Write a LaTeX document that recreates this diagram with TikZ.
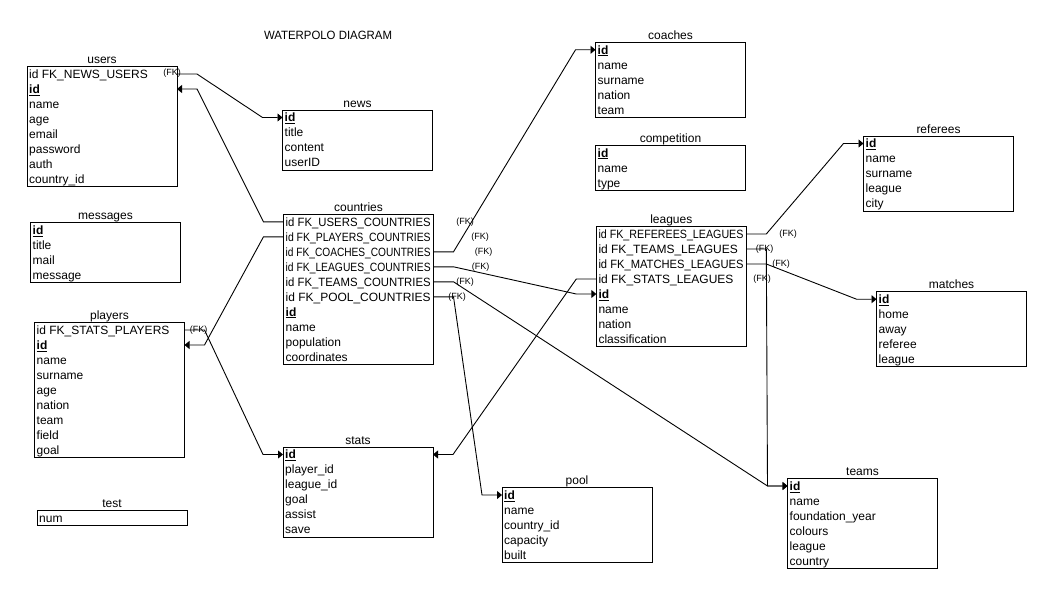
\documentclass[tikz,border=0pt]{standalone}
\usepackage{fontspec}
\setmainfont{Liberation Sans}
\usepackage{graphicx}
\usetikzlibrary{arrows.meta,calc}
\newsavebox\rowbox
\newcommand\fitrow[1]{\sbox\rowbox{#1}\ifdim\wd\rowbox>145pt\resizebox{145pt}{\height}{\usebox\rowbox}\else\usebox\rowbox\fi}
\newcommand\pkid{\underline{\textbf{id}}}
\newcommand\ertable[6]{%
  \node[tbox,minimum height=#5*15pt] (#1) at (#2,#3) {};
  \node[ttl] (#1-title) at (#2+75,#3-3) {#4};
  \foreach \r [count=\i from 0] in {#6} {\node[row] (#1-r\i) at (#2+2,#3+7.5+15*\i) {\fitrow{\r}};}
}
\tikzset{
  tbox/.style={draw,line width=1pt,anchor=north west,minimum width=150pt,inner sep=0pt,outer sep=0pt},
  ttl/.style={anchor=base,inner sep=0pt,font=\fontsize{12}{14}\selectfont},
  row/.style={anchor=west,inner sep=0pt,font=\fontsize{12}{14}\selectfont,text height=10.6pt,text depth=2pt},
  conn/.style={draw,line width=0.9pt,-{Triangle[length=5pt,width=8pt]}},
  fk/.style={inner sep=0pt,font=\fontsize{9}{10}\selectfont},
}
\begin{document}
\begin{tikzpicture}[x=1pt,y=-1pt]
\useasboundingbox (0,0) rectangle (1052,594);
\fill[white] (0,0) rectangle (1052,594);
\node[anchor=base,inner sep=0pt,font=\fontsize{12}{14}\selectfont] (diagtitle) at (328,39.3) {\resizebox{128pt}{\height}{WATERPOLO DIAGRAM}};

\ertable{users}{27}{66.5}{users}{8}{id FK\_NEWS\_USERS,\pkid,name,age,email,password,auth,country\_id}
\ertable{news}{282.5}{110}{news}{4}{\pkid,title,content,userID}
\ertable{messages}{30.5}{222.5}{messages}{4}{\pkid,title,mail,message}
\ertable{players}{34.5}{322.5}{players}{9}{id FK\_STATS\_PLAYERS,\pkid,name,surname,age,nation,team,field,goal}
\ertable{test}{37}{510.3}{test}{1}{num}
\ertable{countries}{283.5}{214.3}{countries}{10}{id FK\_USERS\_COUNTRIES,id FK\_PLAYERS\_COUNTRIES,id FK\_COACHES\_COUNTRIES,id FK\_LEAGUES\_COUNTRIES,id FK\_TEAMS\_COUNTRIES,id FK\_POOL\_COUNTRIES,\pkid,name,population,coordinates}
\ertable{stats}{283}{447}{stats}{6}{\pkid,player\_id,league\_id,goal,assist,save}
\ertable{coaches}{595.5}{42.3}{coaches}{5}{\pkid,name,surname,nation,team}
\ertable{competition}{595.5}{145.3}{competition}{3}{\pkid,name,type}
\ertable{leagues}{596.3}{226.5}{leagues}{8}{id FK\_REFEREES\_LEAGUES,id FK\_TEAMS\_LEAGUES,id FK\_MATCHES\_LEAGUES,id FK\_STATS\_LEAGUES,\pkid,name,nation,classification}
\ertable{referees}{863.5}{136}{referees}{5}{\pkid,name,surname,league,city}
\ertable{matches}{876.5}{291.7}{matches}{5}{\pkid,home,away,referee,league}
\ertable{pool}{502}{487.5}{pool}{5}{\pkid,name,country\_id,capacity,built}
\ertable{teams}{787.5}{478.5}{teams}{6}{\pkid,name,foundation\_year,colours,league,country}

% connectors
\draw[conn] (users-r0 -| users.east) -- ++(20,0) -- ($(news-r0 -| news.west)+(-20,0)$) -- (news-r0 -| news.west);
\draw[conn] (countries-r0 -| countries.west) -- ++(-20,0) -- ($(users-r1 -| users.east)+(20,0)$) -- (users-r1 -| users.east);
\draw[conn] (countries-r1 -| countries.west) -- ++(-20,0) -- ($(players-r1 -| players.east)+(20,0)$) -- (players-r1 -| players.east);
\draw[conn] (players-r0 -| players.east) -- ++(20,0) -- ($(stats-r0 -| stats.west)+(-20,0)$) -- (stats-r0 -| stats.west);
\draw[conn] (countries-r2 -| countries.east) -- ++(20,0) -- ($(coaches-r0 -| coaches.west)+(-20,0)$) -- (coaches-r0 -| coaches.west);
\draw[conn] (countries-r3 -| countries.east) -- ++(20,0) -- ($(leagues-r4 -| leagues.west)+(-20,0)$) -- (leagues-r4 -| leagues.west);
\draw[conn] (countries-r4 -| countries.east) -- ++(20,0) -- ($(teams-r0 -| teams.west)+(-20,0)$) -- (teams-r0 -| teams.west);
\draw[conn] (countries-r5 -| countries.east) -- ++(20,0) -- ($(pool-r0 -| pool.west)+(-20,0)$) -- (pool-r0 -| pool.west);
\draw[conn] (leagues-r3 -| leagues.west) -- ++(-20,0) -- ($(stats-r0 -| stats.east)+(20,0)$) -- (stats-r0 -| stats.east);
\draw[conn] (leagues-r0 -| leagues.east) -- ++(20,0) -- ($(referees-r0 -| referees.west)+(-20,0)$) -- (referees-r0 -| referees.west);
\draw[conn] (leagues-r2 -| leagues.east) -- ++(20,0) -- ($(matches-r0 -| matches.west)+(-20,0)$) -- (matches-r0 -| matches.west);
\draw[conn] (leagues-r1 -| leagues.east) -- ++(20,0) -- ($(teams-r0 -| teams.west)+(-20,0)$) -- (teams-r0 -| teams.west);

% FK labels
\node[fk] (fk1) at (172,73.5) {(FK)};
\node[fk] (fk2) at (198.5,330) {(FK)};
\node[fk] (fk3) at (465,222) {(FK)};
\node[fk] (fk4) at (480,237) {(FK)};
\node[fk] (fk5) at (483.5,252) {(FK)};
\node[fk] (fk6) at (480.5,267) {(FK)};
\node[fk] (fk7) at (465,282) {(FK)};
\node[fk] (fk8) at (457,297) {(FK)};
\node[fk] (fk9) at (788,234) {(FK)};
\node[fk] (fk10) at (764.7,249) {(FK)};
\node[fk] (fk11) at (781,264) {(FK)};
\node[fk] (fk12) at (762,279) {(FK)};
\end{tikzpicture}
\end{document}
